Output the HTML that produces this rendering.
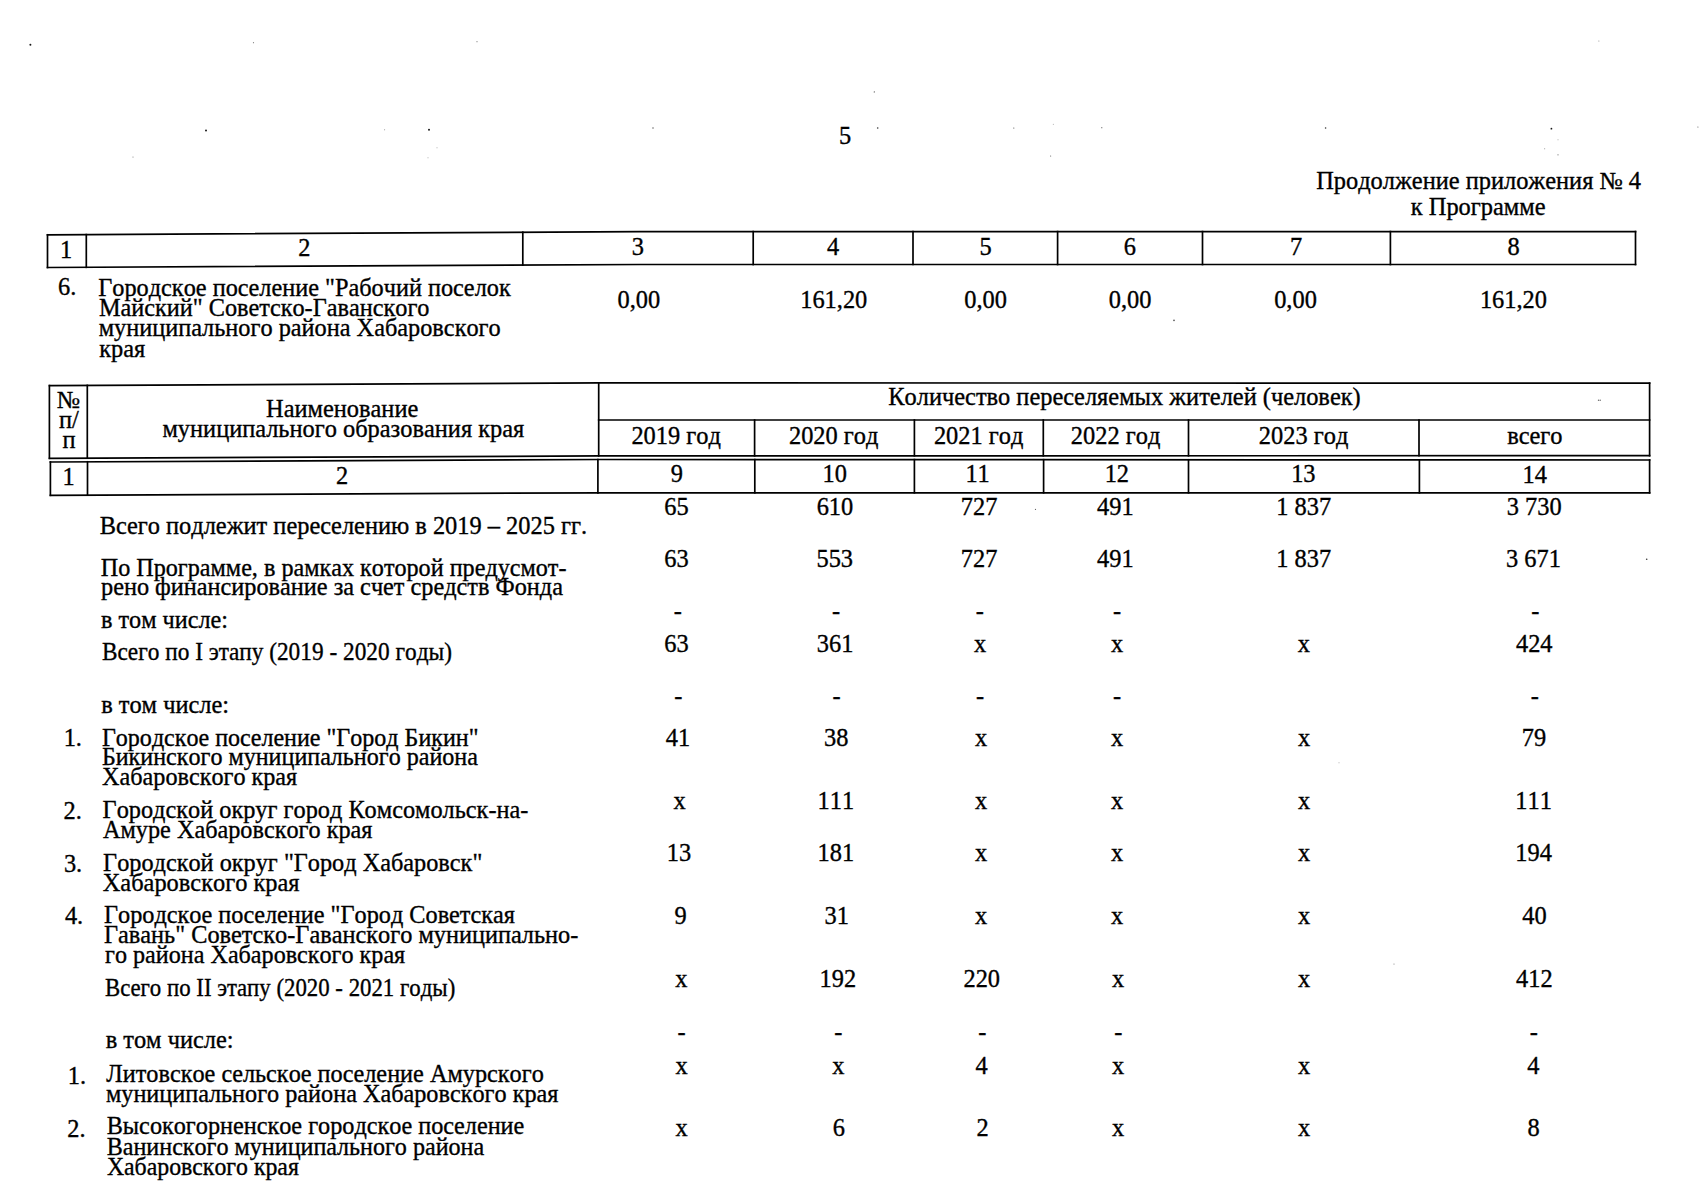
<!DOCTYPE html>
<html lang="ru"><head><meta charset="utf-8"><title>Продолжение приложения № 4</title>
<style>
html,body{margin:0;padding:0;background:#fff;}
body{width:1705px;height:1200px;overflow:hidden;}
svg{display:block;}
text{font-family:'Liberation Serif', 'Times New Roman', serif;font-size:24.4px;fill:#000;font-kerning:none;font-feature-settings:'kern' 0;stroke:#000;stroke-width:0.35px;}
</style></head><body>
<svg width="1705" height="1200" viewBox="0 0 1705 1200">
<g fill="none" stroke="#000" stroke-width="1.7" stroke-linecap="square">
<polyline points="47.5,234.8 640.0,231.6 1635.5,231.6"/>
<polyline points="47.5,267.5 640.0,264.5 1635.5,264.5"/>
<line x1="47.5" y1="234.8" x2="47.5" y2="267.5"/>
<line x1="86.3" y1="234.6" x2="86.3" y2="267.3"/>
<line x1="522.8" y1="232.2" x2="522.8" y2="265.1"/>
<line x1="753.2" y1="231.6" x2="753.2" y2="264.5"/>
<line x1="913.0" y1="231.6" x2="913.0" y2="264.5"/>
<line x1="1057.6" y1="231.6" x2="1057.6" y2="264.5"/>
<line x1="1202.5" y1="231.6" x2="1202.5" y2="264.5"/>
<line x1="1390.4" y1="231.6" x2="1390.4" y2="264.5"/>
<line x1="1635.5" y1="231.6" x2="1635.5" y2="264.5"/>
<polyline points="49.5,385.6 600.0,382.9 1649.6,383.2"/>
<polyline points="49.5,458.3 600.0,455.9 1649.6,455.7"/>
<polyline points="598.7,420.0 1649.6,420.0"/>
<line x1="49.4" y1="385.6" x2="49.4" y2="458.3"/>
<line x1="87.3" y1="385.4" x2="87.3" y2="458.1"/>
<line x1="598.7" y1="382.9" x2="598.7" y2="455.9"/>
<line x1="1649.6" y1="383.2" x2="1649.6" y2="455.7"/>
<line x1="754.6" y1="420.0" x2="754.6" y2="455.9"/>
<line x1="914.4" y1="420.0" x2="914.4" y2="455.8"/>
<line x1="1043.3" y1="420.0" x2="1043.3" y2="455.8"/>
<line x1="1188.5" y1="420.0" x2="1188.5" y2="455.8"/>
<line x1="1419.0" y1="420.0" x2="1419.0" y2="455.7"/>
<polyline points="50.4,462.0 600.0,459.5 1649.6,460.0"/>
<polyline points="50.4,495.3 600.0,492.8 1649.6,492.8"/>
<line x1="50.4" y1="462.0" x2="50.4" y2="495.3"/>
<line x1="87.5" y1="461.8" x2="87.5" y2="495.1"/>
<line x1="597.9" y1="459.5" x2="597.9" y2="492.8"/>
<line x1="754.8" y1="459.6" x2="754.8" y2="492.8"/>
<line x1="914.4" y1="459.6" x2="914.4" y2="492.8"/>
<line x1="1043.6" y1="459.7" x2="1043.6" y2="492.8"/>
<line x1="1188.5" y1="459.8" x2="1188.5" y2="492.8"/>
<line x1="1419.4" y1="459.9" x2="1419.4" y2="492.8"/>
<line x1="1649.6" y1="460.0" x2="1649.6" y2="492.8"/>
</g>
<g>
<circle cx="30.4" cy="44.7" r="1.0" fill="#000" opacity="0.9"/>
<circle cx="253.5" cy="42.7" r="0.6" fill="#000" opacity="0.5"/>
<circle cx="477" cy="41.7" r="0.6" fill="#000" opacity="0.5"/>
<circle cx="206" cy="130.4" r="1.0" fill="#000" opacity="0.9"/>
<circle cx="384.6" cy="129.7" r="0.5" fill="#000" opacity="0.5"/>
<circle cx="429" cy="129.7" r="1.0" fill="#000" opacity="0.9"/>
<circle cx="133" cy="157" r="0.6" fill="#000" opacity="0.5"/>
<circle cx="437" cy="147.8" r="0.5" fill="#000" opacity="0.4"/>
<circle cx="428" cy="157.8" r="0.5" fill="#000" opacity="0.4"/>
<circle cx="653" cy="128" r="0.7" fill="#000" opacity="0.7"/>
<circle cx="874.3" cy="91.9" r="0.6" fill="#000" opacity="0.7"/>
<circle cx="877.7" cy="128" r="0.8" fill="#000" opacity="0.8"/>
<circle cx="1013.8" cy="128" r="0.6" fill="#000" opacity="0.7"/>
<circle cx="1053.3" cy="124.3" r="0.5" fill="#000" opacity="0.4"/>
<circle cx="1101.8" cy="127.7" r="0.6" fill="#000" opacity="0.6"/>
<circle cx="1050.6" cy="156" r="0.6" fill="#000" opacity="0.6"/>
<circle cx="1325.6" cy="128" r="0.8" fill="#000" opacity="0.8"/>
<circle cx="1551.4" cy="128.7" r="0.9" fill="#000" opacity="0.9"/>
<circle cx="1598.9" cy="41" r="0.5" fill="#000" opacity="0.5"/>
<circle cx="1697.9" cy="127" r="0.6" fill="#000" opacity="0.6"/>
<circle cx="1558" cy="139.7" r="0.5" fill="#000" opacity="0.4"/>
<circle cx="1544.7" cy="148.8" r="0.5" fill="#000" opacity="0.5"/>
<circle cx="1558" cy="154.8" r="0.6" fill="#000" opacity="0.6"/>
<circle cx="1174" cy="320.4" r="0.8" fill="#000" opacity="0.7"/>
<circle cx="1598.5" cy="400.3" r="0.7" fill="#000" opacity="0.6"/>
<circle cx="1600.2" cy="400.3" r="0.7" fill="#000" opacity="0.6"/>
<circle cx="1035.5" cy="509.4" r="0.6" fill="#000" opacity="0.6"/>
<circle cx="1646.7" cy="559.2" r="0.8" fill="#000" opacity="0.8"/>
<circle cx="1339" cy="762.7" r="0.5" fill="#000" opacity="0.4"/>
<circle cx="1394" cy="964" r="0.6" fill="#000" opacity="0.5"/>
</g>
<g>
<text x="839.12" y="144.0">5</text>
<text x="1316.20" y="189.0">Продолжение приложения № 4</text>
<text x="1410.87" y="215.3">к Программе</text>
<text x="59.96" y="257.5">1</text>
<text x="298.19" y="256.3">2</text>
<text x="631.70" y="254.6">3</text>
<text x="827.10" y="254.6">4</text>
<text x="979.57" y="254.6">5</text>
<text x="1123.79" y="254.6">6</text>
<text x="1289.90" y="254.6">7</text>
<text x="1507.50" y="254.6">8</text>
<text x="58.05" y="295.0">6.</text>
<text x="98.30" y="295.7" textLength="412.38" lengthAdjust="spacingAndGlyphs">Городское поселение &quot;Рабочий поселок</text>
<text x="98.90" y="315.9" textLength="330.62" lengthAdjust="spacingAndGlyphs">Майский&quot; Советско-Гаванского</text>
<text x="98.74" y="336.2" textLength="401.98" lengthAdjust="spacingAndGlyphs">муниципального района Хабаровского</text>
<text x="99.26" y="356.5">края</text>
<text x="617.51" y="307.6">0,00</text>
<text x="800.21" y="307.6">161,20</text>
<text x="964.31" y="307.6">0,00</text>
<text x="1108.81" y="307.6">0,00</text>
<text x="1274.16" y="307.6">0,00</text>
<text x="1479.91" y="307.6">161,20</text>
<text x="56.78" y="408.3">№</text>
<text x="58.89" y="428.1">п/</text>
<text x="62.54" y="448.4">п</text>
<text x="266.03" y="416.6">Наименование</text>
<text x="162.44" y="436.6">муниципального образования края</text>
<text x="888.30" y="404.7">Количество переселяемых жителей (человек)</text>
<text x="631.39" y="444.2">2019 год</text>
<text x="788.94" y="444.2">2020 год</text>
<text x="933.89" y="444.2">2021 год</text>
<text x="1070.84" y="444.2">2022 год</text>
<text x="1258.84" y="444.2">2023 год</text>
<text x="1507.16" y="444.2">всего</text>
<text x="62.46" y="485.0">1</text>
<text x="335.89" y="483.6">2</text>
<text x="670.81" y="482.2">9</text>
<text x="822.50" y="482.3">10</text>
<text x="965.42" y="482.3">11</text>
<text x="1104.66" y="482.3">12</text>
<text x="1291.16" y="482.4">13</text>
<text x="1522.62" y="482.5">14</text>
<text x="99.80" y="533.9">Всего подлежит переселению в 2019 – 2025 гг.</text>
<text x="664.36" y="515.0">65</text>
<text x="816.65" y="515.0">610</text>
<text x="960.75" y="515.0">727</text>
<text x="1097.00" y="515.0">491</text>
<text x="1276.34" y="515.0">1 837</text>
<text x="1506.84" y="515.0">3 730</text>
<text x="100.70" y="575.7" textLength="465.77" lengthAdjust="spacingAndGlyphs">По Программе, в рамках которой предусмот-</text>
<text x="101.01" y="595.4" textLength="461.92" lengthAdjust="spacingAndGlyphs">рено финансирование за счет средств Фонда</text>
<text x="664.36" y="567.3">63</text>
<text x="816.47" y="567.3">553</text>
<text x="960.75" y="567.3">727</text>
<text x="1097.00" y="567.3">491</text>
<text x="1276.34" y="567.3">1 837</text>
<text x="1506.01" y="567.3">3 671</text>
<text x="100.96" y="628.0" textLength="127.10" lengthAdjust="spacingAndGlyphs">в том числе:</text>
<text x="673.73" y="619.1">-</text>
<text x="831.93" y="619.1">-</text>
<text x="975.63" y="619.1">-</text>
<text x="1112.93" y="619.1">-</text>
<text x="1531.23" y="619.1">-</text>
<text x="101.93" y="660.1" textLength="350.00" lengthAdjust="spacingAndGlyphs">Всего по I этапу (2019 - 2020 годы)</text>
<text x="664.36" y="651.7">63</text>
<text x="816.86" y="651.7">361</text>
<text x="973.94" y="651.7">x</text>
<text x="1110.94" y="651.7">x</text>
<text x="1297.64" y="651.7">x</text>
<text x="1515.96" y="651.7">424</text>
<text x="101.16" y="713.4">в том числе:</text>
<text x="674.23" y="703.8">-</text>
<text x="832.43" y="703.8">-</text>
<text x="975.93" y="703.8">-</text>
<text x="1112.93" y="703.8">-</text>
<text x="1530.63" y="703.8">-</text>
<text x="63.66" y="745.7">1.</text>
<text x="101.91" y="745.5" textLength="376.58" lengthAdjust="spacingAndGlyphs">Городское поселение &quot;Город Бикин&quot;</text>
<text x="101.91" y="765.3" textLength="376.02" lengthAdjust="spacingAndGlyphs">Бикинского муниципального района</text>
<text x="102.07" y="785.4" textLength="195.17" lengthAdjust="spacingAndGlyphs">Хабаровского края</text>
<text x="665.70" y="746.2">41</text>
<text x="824.09" y="746.2">38</text>
<text x="974.94" y="746.2">x</text>
<text x="1110.94" y="746.2">x</text>
<text x="1297.94" y="746.2">x</text>
<text x="1521.80" y="746.2">79</text>
<text x="63.53" y="819.2">2.</text>
<text x="102.60" y="818.2" textLength="425.78" lengthAdjust="spacingAndGlyphs">Городской округ город Комсомольск-на-</text>
<text x="103.06" y="837.7" textLength="269.37" lengthAdjust="spacingAndGlyphs">Амуре Хабаровского края</text>
<text x="673.44" y="809.2">x</text>
<text x="817.57" y="809.2">111</text>
<text x="974.94" y="809.2">x</text>
<text x="1110.94" y="809.2">x</text>
<text x="1297.94" y="809.2">x</text>
<text x="1515.37" y="809.2">111</text>
<text x="63.93" y="871.8">3.</text>
<text x="103.10" y="870.5" textLength="379.21" lengthAdjust="spacingAndGlyphs">Городской округ &quot;Город Хабаровск&quot;</text>
<text x="102.76" y="890.8">Хабаровского края</text>
<text x="666.81" y="861.3">13</text>
<text x="817.57" y="861.3">181</text>
<text x="974.94" y="861.3">x</text>
<text x="1110.94" y="861.3">x</text>
<text x="1297.94" y="861.3">x</text>
<text x="1515.33" y="861.3">194</text>
<text x="64.92" y="924.3">4.</text>
<text x="104.00" y="922.7" textLength="410.94" lengthAdjust="spacingAndGlyphs">Городское поселение &quot;Город Советская</text>
<text x="104.00" y="942.8" textLength="474.28" lengthAdjust="spacingAndGlyphs">Гавань&quot; Советско-Гаванского муниципально-</text>
<text x="105.06" y="963.2" textLength="300.17" lengthAdjust="spacingAndGlyphs">го района Хабаровского края</text>
<text x="674.41" y="924.3">9</text>
<text x="824.45" y="924.3">31</text>
<text x="974.94" y="924.3">x</text>
<text x="1110.94" y="924.3">x</text>
<text x="1297.94" y="924.3">x</text>
<text x="1522.33" y="924.3">40</text>
<text x="105.04" y="995.5" textLength="350.26" lengthAdjust="spacingAndGlyphs">Всего по II этапу (2020 - 2021 годы)</text>
<text x="675.24" y="986.8">x</text>
<text x="819.51" y="986.8">192</text>
<text x="963.44" y="986.8">220</text>
<text x="1111.94" y="986.8">x</text>
<text x="1297.94" y="986.8">x</text>
<text x="1516.04" y="986.8">412</text>
<text x="105.66" y="1047.6">в том числе:</text>
<text x="677.53" y="1040.2">-</text>
<text x="834.23" y="1040.2">-</text>
<text x="978.13" y="1040.2">-</text>
<text x="1114.23" y="1040.2">-</text>
<text x="1529.63" y="1040.2">-</text>
<text x="67.86" y="1084.3">1.</text>
<text x="106.27" y="1082.0" textLength="437.55" lengthAdjust="spacingAndGlyphs">Литовское сельское поселение Амурского</text>
<text x="105.94" y="1102.4" textLength="452.49" lengthAdjust="spacingAndGlyphs">муниципального района Хабаровского края</text>
<text x="675.44" y="1073.7">x</text>
<text x="832.24" y="1073.7">x</text>
<text x="975.45" y="1073.7">4</text>
<text x="1111.94" y="1073.7">x</text>
<text x="1297.94" y="1073.7">x</text>
<text x="1527.35" y="1073.7">4</text>
<text x="67.23" y="1137.0">2.</text>
<text x="106.70" y="1134.2" textLength="417.64" lengthAdjust="spacingAndGlyphs">Высокогорненское городское поселение</text>
<text x="106.71" y="1154.9" textLength="377.52" lengthAdjust="spacingAndGlyphs">Ванинского муниципального района</text>
<text x="106.88" y="1175.2" textLength="191.95" lengthAdjust="spacingAndGlyphs">Хабаровского края</text>
<text x="675.44" y="1136.3">x</text>
<text x="832.74" y="1136.3">6</text>
<text x="976.54" y="1136.3">2</text>
<text x="1111.94" y="1136.3">x</text>
<text x="1297.94" y="1136.3">x</text>
<text x="1527.50" y="1136.3">8</text>
</g>
</svg>
</body></html>
